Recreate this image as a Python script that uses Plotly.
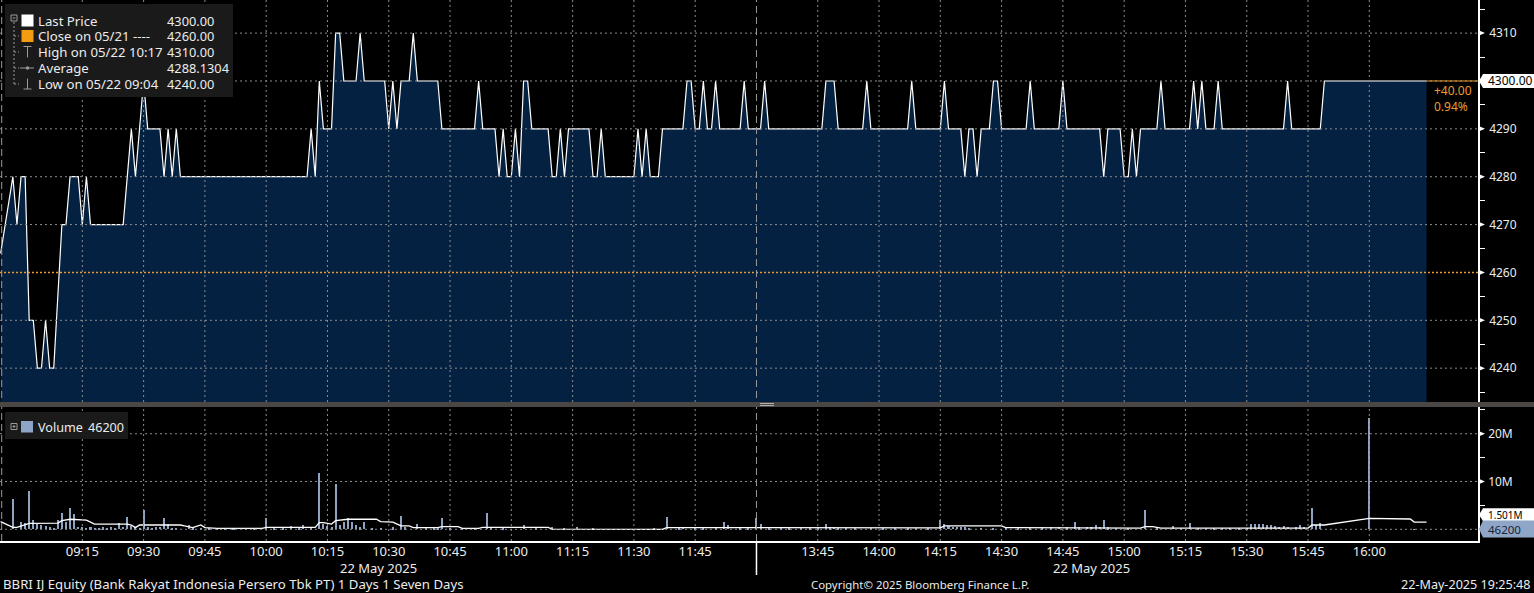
import plotly.graph_objects as go

# ------------------------------------------------------------------ data
price_times = [
    "08:55", "08:58", "08:59", "09:00", "09:01", "09:02", "09:03", "09:04", "09:05", "09:06",
    "09:07", "09:08", "09:10", "09:11", "09:12", "09:14", "09:15", "09:16", "09:17", "09:25",
    "09:27", "09:28", "09:30", "09:31", "09:34", "09:35", "09:36", "09:37", "09:38", "09:39",
    "10:10", "10:11", "10:12", "10:13", "10:14", "10:16", "10:17", "10:18", "10:19", "10:22",
    "10:23", "10:24", "10:29", "10:30", "10:31", "10:32", "10:33", "10:35", "10:36", "10:37",
    "10:42", "10:43", "10:51", "10:52", "10:53", "10:56", "10:57", "10:58", "10:59", "11:00",
    "11:01", "11:02", "11:03", "11:04", "11:05", "11:09", "11:10", "11:11", "11:12", "11:13",
    "11:14", "11:19", "11:20", "11:21", "11:22", "11:23", "11:30", "11:31", "11:32", "11:33",
    "11:34", "11:36", "11:37", "11:42", "11:43", "11:44", "11:45", "11:46", "11:47", "11:48",
    "11:49", "11:50", "11:51", "11:56", "11:57", "11:58",
    "13:31", "13:32", "13:33", "13:46", "13:47", "13:49", "13:50", "13:56", "13:57", "13:58",
    "14:07", "14:08", "14:09", "14:15", "14:16", "14:17", "14:20", "14:21", "14:22", "14:23",
    "14:24", "14:25", "14:27", "14:28", "14:29", "14:30", "14:36", "14:37", "14:38", "14:44",
    "14:45", "14:46", "14:54", "14:55", "14:56", "14:59", "15:00", "15:01", "15:02", "15:03",
    "15:04", "15:08", "15:09", "15:10", "15:16", "15:17", "15:18", "15:19", "15:20", "15:22",
    "15:23", "15:24", "15:39", "15:40", "15:41", "15:48", "15:49", "16:14",
]
price_values = [
    4264, 4280, 4270, 4280, 4280, 4250, 4250, 4240, 4240, 4250,
    4240, 4240, 4270, 4270, 4280, 4280, 4270, 4280, 4270, 4270,
    4290, 4280, 4300, 4290, 4290, 4280, 4290, 4280, 4290, 4280,
    4280, 4290, 4280, 4300, 4290, 4290, 4310, 4310, 4300, 4300,
    4310, 4300, 4300, 4290, 4300, 4290, 4300, 4300, 4310, 4300,
    4300, 4290, 4290, 4300, 4290, 4290, 4280, 4290, 4280, 4280,
    4290, 4280, 4300, 4300, 4290, 4290, 4280, 4280, 4290, 4280,
    4290, 4290, 4280, 4280, 4290, 4280, 4280, 4290, 4280, 4290,
    4280, 4280, 4290, 4290, 4300, 4300, 4290, 4290, 4300, 4290,
    4290, 4300, 4290, 4290, 4300, 4290,
    4290, 4300, 4290, 4290, 4300, 4300, 4290, 4290, 4300, 4290,
    4290, 4300, 4290, 4290, 4300, 4290, 4290, 4280, 4290, 4290,
    4280, 4290, 4290, 4300, 4300, 4290, 4290, 4300, 4290, 4290,
    4300, 4290, 4290, 4280, 4290, 4290, 4280, 4280, 4290, 4280,
    4290, 4290, 4300, 4290, 4290, 4300, 4290, 4300, 4290, 4290,
    4300, 4290, 4290, 4300, 4290, 4290, 4300, 4300,
]

# volume per minute, millions of shares
vol_times = [
    "08:58", "09:00", "09:01", "09:02", "09:03", "09:04", "09:05", "09:06", "09:07", "09:08",
    "09:09", "09:10", "09:11", "09:12", "09:13", "09:14", "09:15", "09:16", "09:17", "09:18",
    "09:19", "09:20", "09:21", "09:22", "09:23", "09:24", "09:25", "09:26", "09:27", "09:28",
    "09:29", "09:30", "09:31", "09:32", "09:33", "09:34", "09:35", "09:36", "09:37", "09:38",
    "09:41", "09:42", "09:44", "09:46", "09:48", "09:50", "09:52", "09:55", "09:57", "10:00",
    "10:02", "10:04", "10:06", "10:08", "10:09", "10:11", "10:13", "10:14", "10:15", "10:16",
    "10:17", "10:18", "10:19", "10:20", "10:21", "10:22", "10:23", "10:24", "10:26", "10:28",
    "10:31", "10:33", "10:34", "10:37", "10:39", "10:41", "10:42", "10:43", "10:45", "10:48",
    "10:51", "10:54", "10:55", "10:58", "11:03", "11:06", "11:10", "11:13", "11:16", "11:20",
    "11:35", "11:38", "11:41", "11:42", "11:45", "11:47", "11:50", "11:52", "11:53", "11:56",
    "11:58",
    "13:30", "13:31", "13:33", "13:36", "13:38", "13:41", "13:43", "13:45", "13:47", "13:48",
    "13:49", "13:50", "13:52", "13:54", "13:58", "14:01", "14:04", "14:07", "14:09", "14:12",
    "14:15", "14:16", "14:17", "14:18", "14:19", "14:20", "14:21", "14:22", "14:25", "14:28",
    "14:31", "14:34", "14:37", "14:40", "14:42", "14:44", "14:46", "14:48", "14:49", "14:51",
    "14:52", "14:53", "14:54", "14:55", "14:56", "14:58", "15:01", "15:05", "15:08", "15:12",
    "15:14", "15:16", "15:18", "15:20", "15:22", "15:24", "15:26", "15:28", "15:30", "15:31",
    "15:32", "15:33", "15:34", "15:35", "15:36", "15:37", "15:38", "15:39", "15:40", "15:42",
    "15:43", "15:44", "15:46", "15:47", "15:48", "16:00", "16:11",
]
vol_values = [
    6.3, 1.5, 1.4, 8.0, 1.9, 1.2, 1.0, 0.6, 0.4, 0.3,
    1.9, 3.5, 1.5, 4.5, 3.2, 0.5, 0.4, 0.3, 0.4, 0.3,
    0.3, 0.4, 0.3, 0.4, 0.3, 1.3, 0.5, 2.6, 0.6, 0.4,
    0.3, 4.0, 0.4, 0.3, 0.4, 0.5, 2.3, 1.2, 0.3, 0.3,
    1.0, 0.4, 0.3, 0.3, 0.3, 0.2, 0.3, 0.3, 0.2, 2.3,
    0.3, 0.3, 0.6, 0.3, 0.9, 0.3, 11.8, 1.2, 0.6, 0.4,
    9.5, 1.0, 1.5, 2.3, 1.5, 0.8, 0.4, 1.6, 0.3, 0.3,
    0.4, 2.8, 0.4, 1.1, 0.4, 0.3, 0.3, 2.4, 0.3, 0.3,
    0.3, 3.5, 0.3, 0.3, 1.0, 0.3, 0.4, 0.3, 0.5, 0.2,
    0.3, 2.6, 0.3, 0.5, 0.3, 0.4, 0.3, 1.5, 0.8, 0.3,
    0.3,
    2.3, 1.2, 0.3, 0.3, 0.2, 0.3, 0.3, 0.3, 1.1, 0.4,
    0.5, 0.3, 0.3, 0.2, 0.3, 0.2, 0.3, 0.3, 0.2, 0.3,
    1.9, 1.2, 0.6, 0.5, 0.5, 0.4, 0.4, 0.3, 0.3, 0.3,
    0.2, 0.3, 0.3, 0.4, 0.4, 0.5, 0.4, 1.6, 0.4, 0.5,
    0.5, 1.0, 0.5, 1.9, 0.4, 0.3, 0.3, 4.0, 0.3, 0.7,
    0.3, 1.4, 0.3, 0.3, 0.3, 0.3, 0.3, 0.3, 0.3, 1.2,
    1.2, 1.2, 1.1, 1.0, 0.9, 0.6, 0.5, 0.6, 0.5, 0.5,
    0.9, 0.5, 4.5, 0.9, 1.4, 23.4, 0.0462,
]

# volume moving-average line, millions of shares
ma_times = [
    "08:55", "08:58", "08:59", "09:01", "09:02", "09:09", "09:10", "09:12", "09:16", "09:18",
    "09:26", "09:27", "09:28", "09:29", "09:39", "09:40", "09:42", "09:44", "09:45", "09:48",
    "09:59", "10:00", "10:12", "10:13", "10:14", "10:16", "10:17", "10:20", "10:27", "10:28",
    "10:31", "10:33", "10:35", "10:36", "10:42", "10:43", "10:47", "10:48", "10:52", "10:53",
    "11:09", "11:10", "11:30", "11:37", "11:38", "13:31", "14:15", "14:16", "14:30", "14:31",
    "15:04", "15:05", "15:07", "15:09", "15:45", "15:46", "15:49", "16:00", "16:03", "16:10",
    "16:11", "16:14",
]
ma_values = [
    1.6, 0.4, 0.4, 0.9, 1.25, 1.3, 1.8, 2.1, 1.9, 1.1,
    1.1, 0.9, 0.35, 0.9, 0.9, 0.7, 0.35, 0.9, 0.35, 0.2,
    0.2, 0.4, 0.4, 1.4, 1.4, 1.1, 1.8, 2.1, 2.1, 1.6,
    1.5, 0.7, 0.7, 0.35, 0.35, 0.55, 0.55, 0.2, 0.2, 0.4,
    0.4, 0.05, 0.05, 0.0, 0.35, 0.3, 0.3, 0.7, 0.7, 0.35,
    0.25, 0.55, 0.55, 0.25, 0.25, 0.9, 0.9, 2.3, 2.3, 2.15,
    1.5, 1.5,
]

tick_labels = ["09:15", "09:30", "09:45", "10:00", "10:15", "10:30", "10:45", "11:00",
               "11:15", "11:30", "11:45", "13:45", "14:00", "14:15", "14:30", "14:45",
               "15:00", "15:15", "15:30", "15:45", "16:00"]
price_ticks = [4240, 4250, 4260, 4270, 4280, 4290, 4300, 4310]
price_tick_text = ["4240", "4250", "4260", "4270", "4280", "4290", "", "4310"]  # 4300 hidden by tag
price_minor = [4235, 4245, 4255, 4265, 4275, 4285, 4295, 4305, 4315]
vol_ticks = [0, 10, 20]
vol_tick_text = ["", "10M", "20M"]
vol_minor = [5, 15, 25]

prev_close = 4260
last_price = 4300
last_price_text = "4300.00"
last_trade_time = "16:14"
change_text = "+40.00"
change_pct_text = "0.94%"
last_volume = 0.0462
last_volume_text = "46200"
vol_avg_value = 1.501
vol_avg_text = "1.501M"
session_break = "13:30"
date_text = "22 May 2025"

legend_names = ["Last Price", "Close on 05/21 ----", "High on 05/22 10:17", "Average", "Low on 05/22 09:04"]
legend_values = ["4300.00", "4260.00", "4310.00", "4288.1304", "4240.00"]

footer_left = "BBRI IJ Equity (Bank Rakyat Indonesia Persero Tbk PT) 1 Days 1 Seven Days"
footer_mid = "Copyright\u00a9 2025 Bloomberg Finance L.P."
footer_right = "22-May-2025 19:25:48"

# ------------------------------------------------------------------ geometry
W, H = 1534, 593
MR, MB = 56, 52
PW, PH = W - MR, H - MB          # plot area 1478 x 541
PRICE_BOTTOM_PX, VOL_TOP_PX = 402, 407
X_RANGE = [-5.15, 356.6]
PRICE_RANGE = [4232.93, 4316.92]
VOL_RANGE = [-2.45, 25.6]


def fx(x):
    return x / PW


def fy(y):
    return (PH - y) / PH


def tpos(t):
    """Trading-time position: minutes since 09:00, lunch break removed."""
    h, m = map(int, t.split(":"))
    mins = h * 60 + m
    if mins <= 12 * 60:
        return mins - 9 * 60
    return 180 + (mins - (13 * 60 + 30))


FONT = "Noto Sans"
TXT = "#ececec"
GRID = "#8c8c8c"
NAVY = "#052142"
ORANGE = "#eb9b30"

fig = go.Figure()

fig.add_trace(go.Scatter(
    x=[tpos(t) for t in price_times], y=price_values, mode="lines",
    line=dict(color="#ffffff", width=1.2), fill="tozeroy", fillcolor=NAVY,
    xaxis="x", yaxis="y", hoverinfo="skip", showlegend=False))

fig.add_trace(go.Bar(
    x=[tpos(t) for t in vol_times], y=vol_values, width=0.5,
    marker=dict(color="#8ea3c1", line=dict(width=0)),
    xaxis="x2", yaxis="y2", hoverinfo="skip", showlegend=False))

fig.add_trace(go.Scatter(
    x=[tpos(t) for t in ma_times], y=ma_values, mode="lines",
    line=dict(color="#ffffff", width=1.3),
    xaxis="x2", yaxis="y2", hoverinfo="skip", showlegend=False))

tick_pos = [tpos(t) for t in tick_labels]

shapes = []
dot = "2px,3px"

# grid (drawn above the fill, as in the reference)
for xv in tick_pos:
    shapes.append(dict(type="line", xref="x", yref="paper", x0=xv, x1=xv,
                       y0=fy(PRICE_BOTTOM_PX), y1=1,
                       line=dict(color=GRID, width=1, dash=dot), layer="above"))
    shapes.append(dict(type="line", xref="x", yref="paper", x0=xv, x1=xv,
                       y0=0, y1=fy(VOL_TOP_PX),
                       line=dict(color=GRID, width=1, dash=dot), layer="above"))
for yv in price_ticks:
    if yv == prev_close:
        continue
    shapes.append(dict(type="line", xref="paper", yref="y", x0=0, x1=1, y0=yv, y1=yv,
                       line=dict(color=GRID, width=1, dash=dot), layer="above"))
for yv in vol_ticks:
    shapes.append(dict(type="line", xref="paper", yref="y2", x0=0, x1=1, y0=yv, y1=yv,
                       line=dict(color=GRID, width=1, dash=dot), layer="above"))

# previous close line
shapes.append(dict(type="line", xref="paper", yref="y", x0=0, x1=1, y0=prev_close, y1=prev_close,
                   line=dict(color=ORANGE, width=1.6, dash="2px,2px"), layer="above"))
# last price extension
shapes.append(dict(type="line", xref="x", yref="y", x0=tpos(last_trade_time), x1=X_RANGE[1],
                   y0=last_price, y1=last_price, line=dict(color=ORANGE, width=1), layer="above"))

# session markers
brk = tpos(session_break)
shapes.append(dict(type="line", xref="x", yref="paper", x0=brk, x1=brk, y0=0, y1=1,
                   line=dict(color="#9a9a9a", width=1, dash="7px,4px"), layer="above"))
shapes.append(dict(type="line", xref="x", yref="paper", x0=brk, x1=brk, y0=fy(575), y1=0,
                   line=dict(color="#ffffff", width=1.5), layer="above"))
shapes.append(dict(type="line", xref="paper", yref="paper", x0=fx(1.7), x1=fx(1.7), y0=0, y1=1,
                   line=dict(color="#9a9a9a", width=1, dash="7px,4px"), layer="above"))

# panel separator
shapes.append(dict(type="rect", xref="paper", yref="paper", x0=fx(0), x1=fx(W),
                   y0=fy(VOL_TOP_PX), y1=fy(PRICE_BOTTOM_PX),
                   fillcolor="#4b4745", line=dict(width=0), layer="above"))
for yy in (403.5, 405.5):
    shapes.append(dict(type="line", xref="paper", yref="paper", x0=fx(760), x1=fx(774),
                       y0=fy(yy), y1=fy(yy), line=dict(color="#b0b0b0", width=1), layer="above"))

# axis tick arrows
pu = (PRICE_RANGE[1] - PRICE_RANGE[0]) / PRICE_BOTTOM_PX
vu = (VOL_RANGE[1] - VOL_RANGE[0]) / (PH - VOL_TOP_PX)
for yv in price_ticks:
    shapes.append(dict(type="path", xref="paper", yref="y",
                       path=f"M {fx(PW)},{yv + 3 * pu} L {fx(PW + 7)},{yv} L {fx(PW)},{yv - 3 * pu} Z",
                       fillcolor="#ffffff", line=dict(width=0), layer="above"))
for yv in vol_ticks[1:]:
    shapes.append(dict(type="path", xref="paper", yref="y2",
                       path=f"M {fx(PW)},{yv + 3 * vu} L {fx(PW + 7)},{yv} L {fx(PW)},{yv - 3 * vu} Z",
                       fillcolor="#ffffff", line=dict(width=0), layer="above"))


# axis value tags
def tag(yref, yv, half, color, shift=0.0):
    yc = yv + shift
    return dict(type="path", xref="paper", yref=yref,
                path=(f"M {fx(PW + 1)},{yc} L {fx(PW + 5)},{yc + half} L {fx(W + 2)},{yc + half} "
                      f"L {fx(W + 2)},{yc - half} L {fx(PW + 5)},{yc - half} Z"),
                fillcolor=color, line=dict(width=0), layer="above")


shapes.append(tag("y", last_price, 7 * pu, "#ffffff"))
avg_shift = 7.5 * vu      # the average tag is pushed up by the last-volume tag
shapes.append(tag("y2", vol_avg_value, 6.5 * vu, "#ffffff", avg_shift))

# legend boxes
shapes.append(dict(type="rect", xref="paper", yref="paper", x0=fx(5), x1=fx(233), y0=fy(97), y1=fy(4),
                   fillcolor="#1a1a1a", line=dict(width=0), layer="above"))
shapes.append(dict(type="rect", xref="paper", yref="paper", x0=fx(5), x1=fx(128), y0=fy(439), y1=fy(412),
                   fillcolor="#1a1a1a", line=dict(width=0), layer="above"))

ICON = "#9a9a9a"


def seg(x0, y0, x1, y1, color=ICON, width=1, dash=None):
    ln = dict(color=color, width=width)
    if dash:
        ln["dash"] = dash
    return dict(type="line", xref="paper", yref="paper", x0=fx(x0), x1=fx(x1), y0=fy(y0), y1=fy(y1),
                line=ln, layer="above")


def box(x0, y0, x1, y1, fill=None, color=ICON):
    d = dict(type="rect", xref="paper", yref="paper", x0=fx(x0), x1=fx(x1), y0=fy(y1), y1=fy(y0),
             layer="above")
    if fill:
        d["fillcolor"] = fill
        d["line"] = dict(width=0)
    else:
        d["line"] = dict(color=color, width=1)
    return d


row_y = [20.5, 36, 52, 68, 84]
# tree
shapes.append(box(11, 15, 17, 21))
shapes.append(seg(12.5, 18, 15.5, 18))
shapes.append(seg(14, 22, 14, 84, dash="2px,2px"))
for ry in row_y[1:]:
    shapes.append(seg(14, ry, 19, ry, dash="2px,2px"))
shapes.append(box(21.5, 14.5, 33.5, 26.5, fill="#ffffff"))
shapes.append(box(21.5, 30, 33.5, 42, fill="#f39c12"))
# high icon
shapes.append(seg(23.5, 46.5, 31.5, 46.5))
shapes.append(seg(27.5, 46.5, 27.5, 57.5))
# average icon
shapes.append(seg(20, 68, 34, 68))
shapes.append(dict(type="circle", xref="paper", yref="paper", x0=fx(25.8), x1=fx(29.2),
                   y0=fy(69.7), y1=fy(66.3), fillcolor=ICON, line=dict(width=0), layer="above"))
# low icon
shapes.append(seg(27.5, 78.5, 27.5, 89))
shapes.append(seg(23.5, 89, 31.5, 89))
# volume legend icons
shapes.append(box(11, 423.5, 17, 429.5))
shapes.append(seg(12.5, 426.5, 15.5, 426.5))
shapes.append(seg(14, 425, 14, 428))
shapes.append(box(21, 421, 33, 432.5, fill="#8ea5c8"))

annotations = []


def txt(x, y, s, size=12.5, color=TXT, xanchor="left"):
    annotations.append(dict(xref="paper", yref="paper", x=fx(x), y=fy(y), text=s, showarrow=False,
                            xanchor=xanchor, yanchor="middle",
                            font=dict(family=FONT, size=size, color=color)))


for name, val, ry in zip(legend_names, legend_values, row_y):
    txt(36, ry, name, size=13.2)
    txt(165, ry, val, size=12.8)
txt(36, 427, "Volume", size=12.6)
txt(86, 427, last_volume_text, size=12.6)

# axis tag texts
annotations.append(dict(xref="paper", yref="y", x=fx(PW + 8), y=last_price, text=last_price_text,
                        showarrow=False, xanchor="left", yanchor="middle",
                        font=dict(family=FONT, size=12, color="#000000")))
annotations.append(dict(xref="paper", yref="y2", x=fx(PW + 8), y=vol_avg_value + avg_shift,
                        text=vol_avg_text, showarrow=False, xanchor="left", yanchor="middle",
                        font=dict(family=FONT, size=10, color="#000000")))
shapes.append(tag("y2", last_volume, 8.5 * vu, "#8fa6c6"))
annotations.append(dict(xref="paper", yref="y2", x=fx(PW + 8), y=last_volume, text=last_volume_text,
                        showarrow=False, xanchor="left", yanchor="middle",
                        font=dict(family=FONT, size=11.5, color="#17263b")))

# change vs previous close
txt(1432, 90, change_text, size=12, color=ORANGE)
txt(1432, 106, change_pct_text, size=12, color=ORANGE)

# date labels and footer
txt(378, 568, date_text, size=13, xanchor="center")
txt(1091, 568, date_text, size=13, xanchor="center")
txt(1, 584, footer_left, size=13.2)
txt(920, 584, footer_mid, size=11.4, xanchor="center")
txt(1533, 584, footer_right, size=12.6, xanchor="right")

axis_common = dict(showgrid=False, zeroline=False)

fig.update_layout(
    width=W, height=H, autosize=False,
    margin=dict(l=0, r=MR, t=0, b=MB, pad=0),
    paper_bgcolor="#000000", plot_bgcolor="#000000",
    showlegend=False, bargap=0,
    font=dict(family=FONT, color=TXT),
    xaxis=dict(domain=[0, 1], range=X_RANGE, anchor="y", tickmode="array", tickvals=tick_pos,
               showticklabels=False, ticks="", showline=False, **axis_common),
    xaxis2=dict(domain=[0, 1], range=X_RANGE, anchor="y2", tickmode="array", tickvals=tick_pos,
                ticktext=tick_labels, showticklabels=True, ticks="", showline=True,
                linecolor="#ffffff", linewidth=1.5, matches="x",
                tickfont=dict(family=FONT, size=13, color=TXT), ticklabelstandoff=-2, **axis_common),
    yaxis=dict(domain=[fy(PRICE_BOTTOM_PX), 1], range=PRICE_RANGE, anchor="x", side="right",
               tickmode="array", tickvals=price_ticks, ticktext=price_tick_text, ticks="", showline=True,
               linecolor="#ffffff", linewidth=1.5,
               minor=dict(tickmode="array", tickvals=price_minor, ticks="outside", ticklen=5,
                          tickcolor="#ffffff", tickwidth=1, showgrid=False),
               tickfont=dict(family=FONT, size=12, color=TXT), ticklabelstandoff=7, **axis_common),
    yaxis2=dict(domain=[0, fy(VOL_TOP_PX)], range=VOL_RANGE, anchor="x2", side="right",
                tickmode="array", tickvals=vol_ticks, ticktext=vol_tick_text, ticks="", showline=True,
                linecolor="#ffffff", linewidth=1.5,
                minor=dict(tickmode="array", tickvals=vol_minor, ticks="outside", ticklen=5,
                           tickcolor="#ffffff", tickwidth=1, showgrid=False),
                tickfont=dict(family=FONT, size=12, color=TXT), ticklabelstandoff=6, **axis_common),
    shapes=shapes,
    annotations=annotations,
)

fig.write_html("out.html", config={"displayModeBar": False},
               post_script="document.body.style.margin='0px';document.body.style.overflow='hidden';")
